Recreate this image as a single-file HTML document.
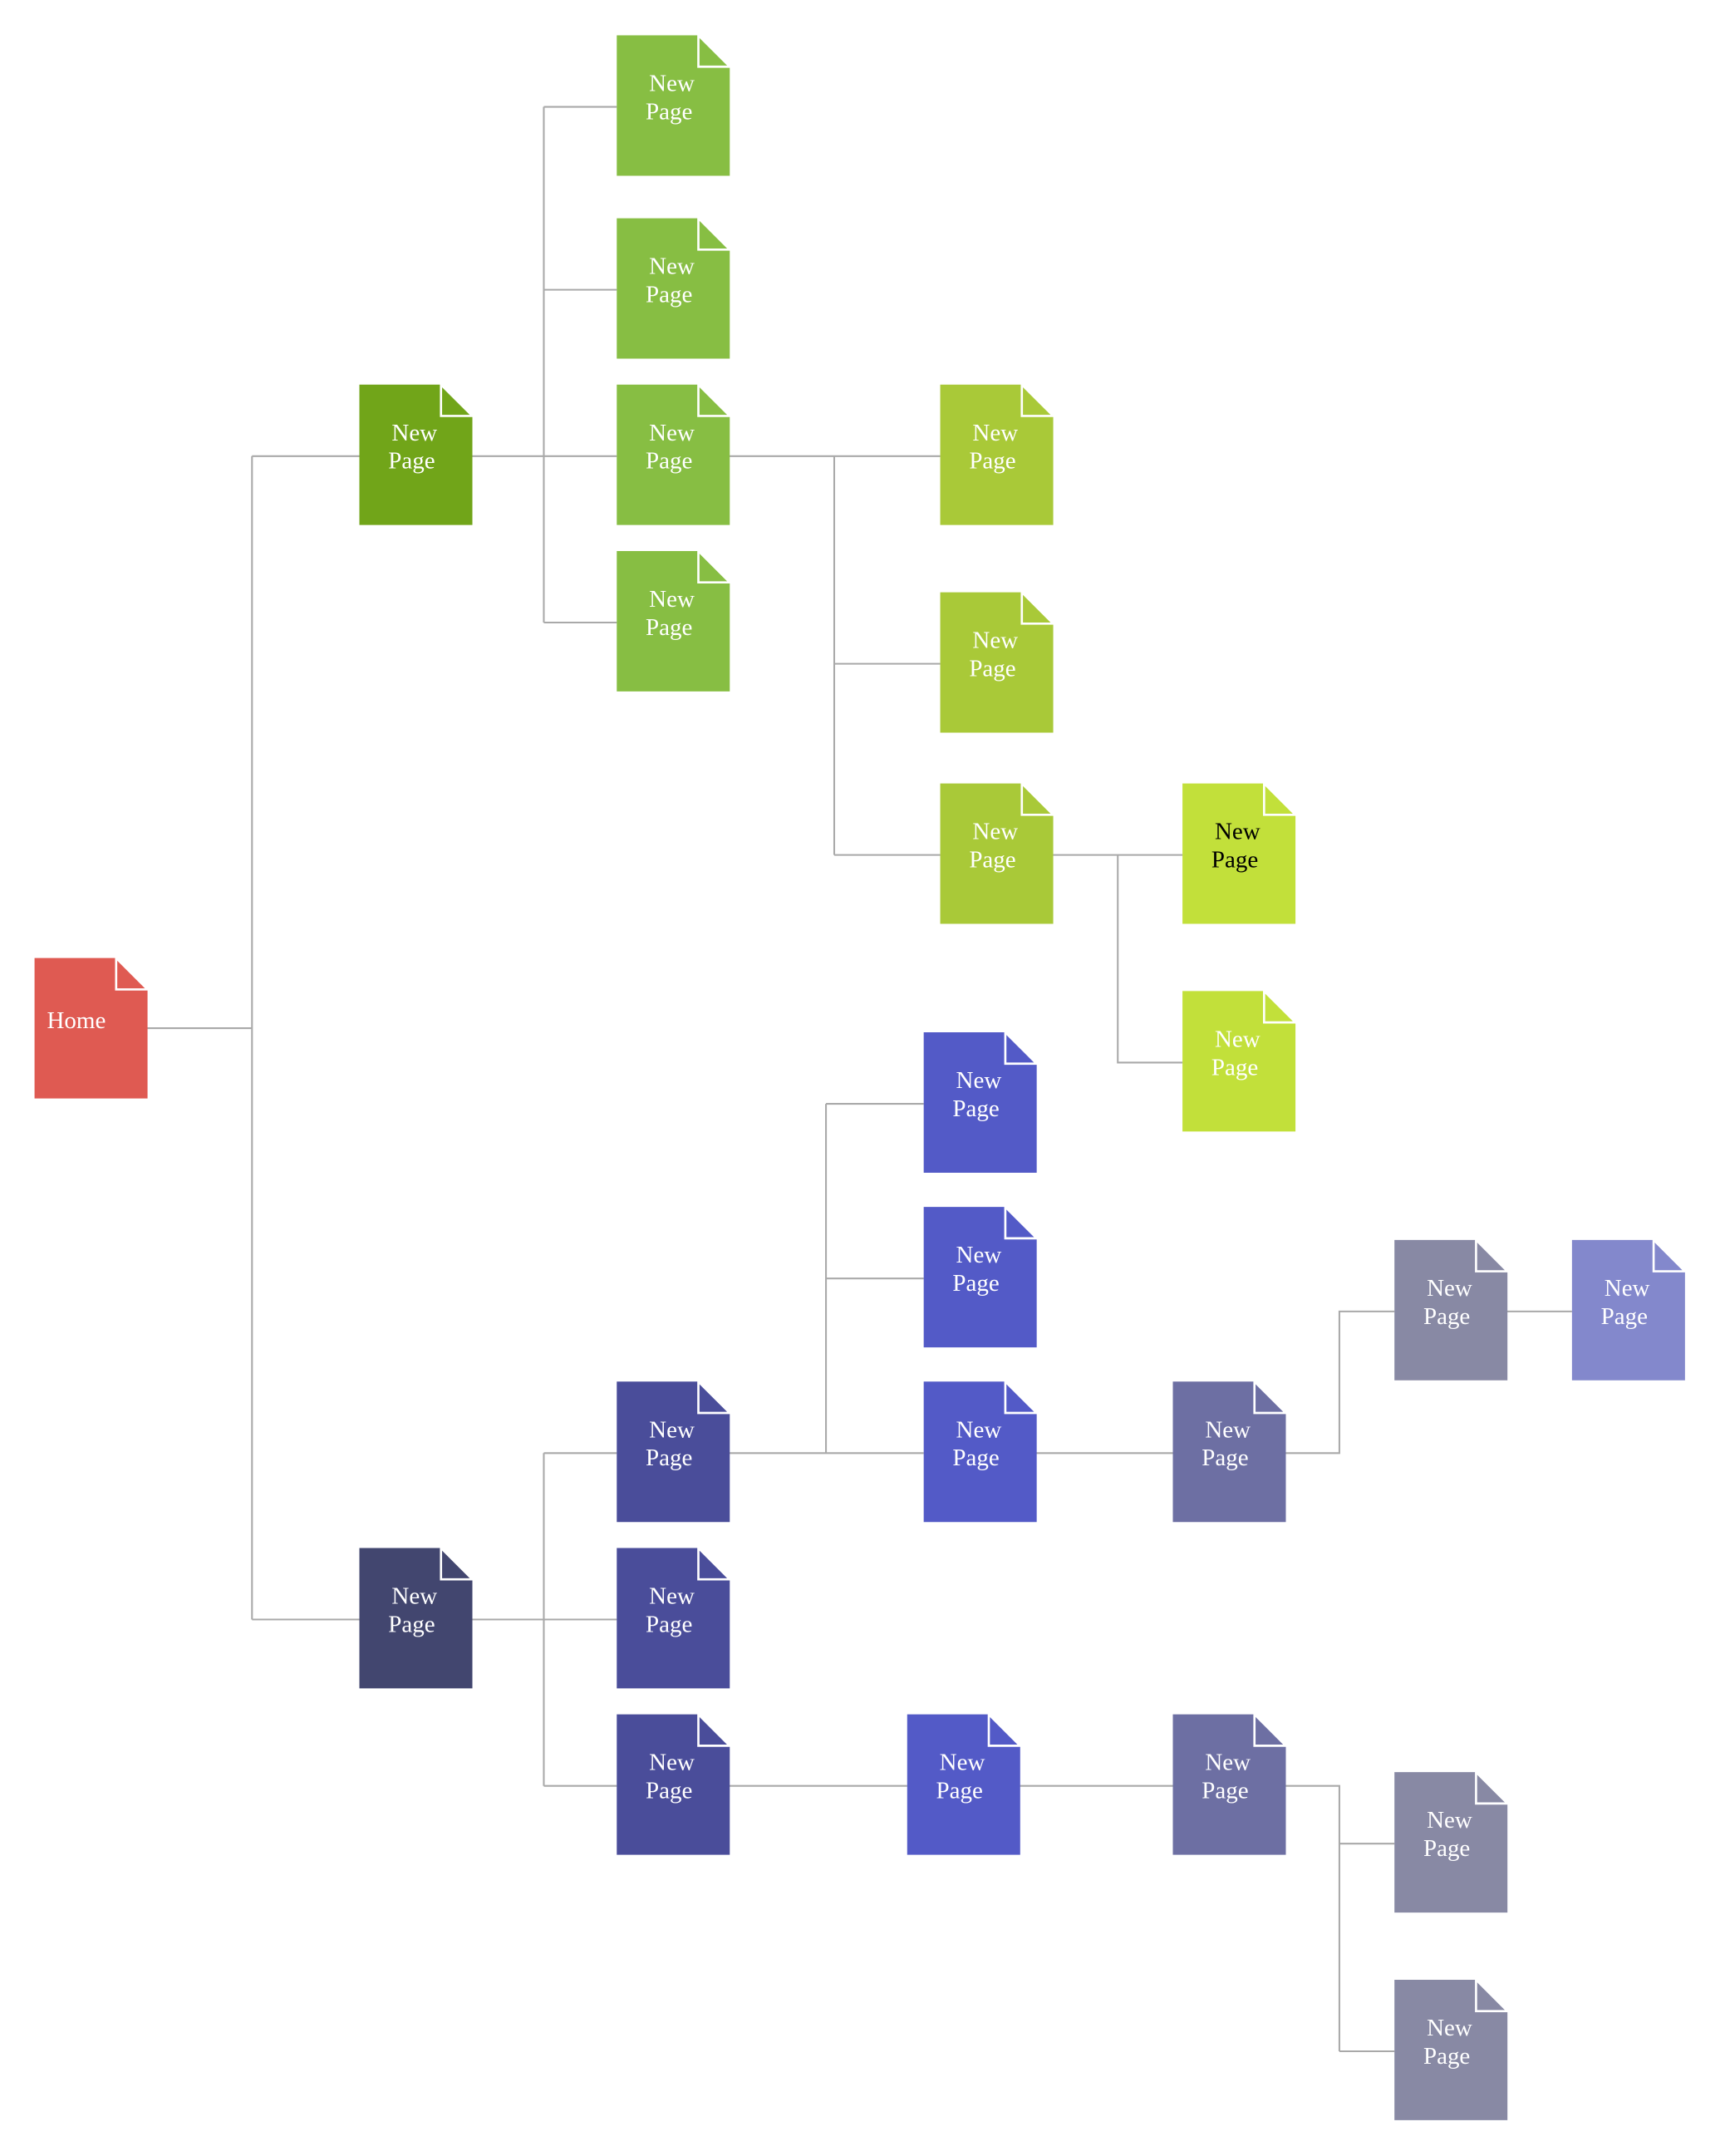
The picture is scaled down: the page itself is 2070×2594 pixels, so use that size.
<!DOCTYPE html>
<html><head><meta charset="utf-8"><style>
html,body{margin:0;padding:0;background:#fff;}
svg{display:block;}
text{font-family:"Liberation Serif",serif;font-size:17.5px;fill:#fff;}
</style></head><body>
<svg width="2070" height="2594" viewBox="0 0 2070 2594" xmlns="http://www.w3.org/2000/svg">
<g transform="translate(-1.5,-0.5) scale(1.6565,1.6545)">
<g stroke="#a9a9a9" stroke-width="1.25" fill="none">
<path d="M107 748H184M184 332V1178M184 332H262M184 1178H262"/>
<path d="M343 332H449M396 78V453M396 78H449M396 211H449M396 453H449"/>
<path d="M530 332H684M607 332V622M607 483H684M607 622H684"/>
<path d="M766 622H860M813 622V773H860"/>
<path d="M343 1178H449M396 1057V1299M396 1057H449M396 1299H449"/>
<path d="M530 1057H672M601 803V1057M601 803H672M601 930H672"/>
<path d="M753 1057H853M935 1057H974V954H1014M1096 954H1143"/>
<path d="M530 1299H660M742 1299H853M935 1299H974V1492M974 1341H1014M974 1492H1014"/>
</g>
<g id="nodes"></g>
</g>
</svg>
<script>
var N=[
[26,697,'#df5a52','home'],
[262,280,'#71a519'],[262,1126,'#42466f'],
[449,26,'#87be43'],[449,159,'#87be43'],[449,280,'#87be43'],[449,401,'#87be43'],
[684,280,'#a9c938'],[684,431,'#a9c938'],[684,570,'#a9c938'],
[860,570,'#c2e03a','black'],[860,721,'#c2e03a'],
[449,1005,'#4a4d9a'],[449,1126,'#4a4d9a'],[449,1247,'#4a4d9a'],
[672,751,'#535ac7'],[672,878,'#535ac7'],[672,1005,'#535ac7'],[660,1247,'#535ac7'],
[853,1005,'#6d6fa3'],[853,1247,'#6d6fa3'],
[1014,902,'#8889a4'],[1014,1289,'#8889a4'],[1014,1440,'#8889a4'],
[1143,902,'#8388cc']];
var g=document.getElementById('nodes'),s='';
N.forEach(function(n){var x=n[0],y=n[1],c=n[2],w=82.1,h=102.1,f=22.8;
s+='<path d="M'+x+' '+y+'H'+(x+w-f)+'L'+(x+w)+' '+(y+f)+'V'+(y+h)+'H'+x+'Z" fill="'+c+'"/>';
s+='<path d="M'+(x+w-f)+' '+y+'V'+(y+f)+'H'+(x+w)+'Z" fill="'+c+'" stroke="#fff" stroke-width="1.6"/>';
if(n[3]=='home'){s+='<text x="'+(x+9)+'" y="'+(y+51)+'">Home</text>';}
else{var st=n[3]=='black'?' style="fill:#000"':'';
s+='<text'+st+' x="'+(x+40)+'" y="'+(y+40.5)+'" text-anchor="middle">New</text>';
s+='<text'+st+' x="'+(x+38)+'" y="'+(y+61)+'" text-anchor="middle">Page</text>';}
});
g.innerHTML=s;
</script>
</body></html>
